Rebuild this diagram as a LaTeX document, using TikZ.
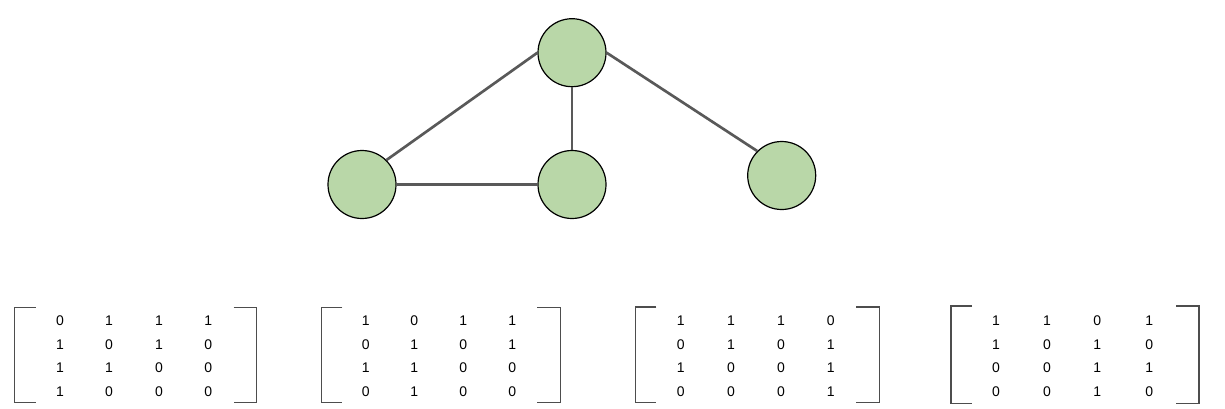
\documentclass[tikz,border=0pt]{standalone}
\usepackage{fontspec}
\setmainfont{Liberation Sans}
\definecolor{nodegreen}{HTML}{B9D7A8}
\definecolor{edgegray}{HTML}{595959}
\definecolor{bracketgray}{HTML}{4D4D4D}
\begin{document}
\begin{tikzpicture}[x=0.75pt,y=-0.75pt,
  vertex/.style={circle,draw=black,line width=0.9pt,fill=nodegreen,minimum size=51pt,inner sep=0pt},
  link/.style={draw=edgegray,line width=2pt},
  bracket/.style={draw=bracketgray,line width=1.1pt},
  digit/.style={inner sep=0pt,font=\fontsize{10.5pt}{12pt}\selectfont,text=black}]
\useasboundingbox (0,0) rectangle (1225,408);
% graph
\node[vertex] (top) at (572,52.7) {};
\node[vertex] (left) at (362,184.5) {};
\node[vertex] (mid) at (572,184.5) {};
\node[vertex] (right) at (781.7,175.5) {};
\draw[link] (top.west) -- (left.north east);
\draw[link] (top.east) -- (right.north west);
\draw[link] (top.south) -- (mid.north);
\draw[link] (left.east) -- (mid.west);
% brackets
\foreach \L/\R/\T/\B in {14.7/256.7/307.7/402.7, 321.3/560.3/307.7/402.5, 635.3/879.3/307/402.7, 951/1199/306/403.3}{
  \draw[bracket] (\L+21,\T) -- (\L,\T) -- (\L,\B) -- (\L+21,\B);
  \draw[bracket] (\R-23,\T) -- (\R,\T) -- (\R,\B) -- (\R-23,\B);
}
% digits
\foreach \mi/\xa/\xb/\xc/\xd/\vals in {
  1/60/109/159/208.3/{0,1,1,1,1,0,1,0,1,1,0,0,1,0,0,0},
  2/365.7/414.3/463.3/512.3/{1,0,1,1,0,1,0,1,1,1,0,0,0,1,0,0},
  3/680.7/731/781/830.7/{1,1,1,0,0,1,0,1,1,0,0,1,0,0,0,1},
  4/996/1047/1097.3/1149.3/{1,1,0,1,1,0,1,0,0,0,1,1,0,0,1,0}}{
  \foreach \v [count=\k from 0] in \vals {
    \pgfmathtruncatemacro\r{int(\k/4)}
    \pgfmathtruncatemacro\c{mod(\k,4)}
    \pgfmathsetmacro\xx{{\xa,\xb,\xc,\xd}[\c]}
    \pgfmathsetmacro\yy{{320.8,344.3,368,391.7}[\r]}
    \node[digit] (m\mi-\r-\c) at (\xx,\yy) {\v};
  }
}
\end{tikzpicture}
\end{document}
